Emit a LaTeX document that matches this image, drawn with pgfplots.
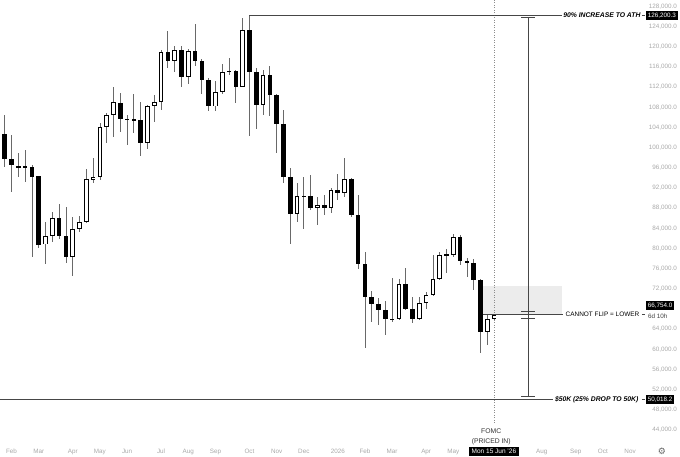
\documentclass[border=0pt]{standalone}
\usepackage{pgfplots}
\pgfplotsset{compat=1.18}
\usepackage{pgfplotstable}
\usepackage{fontspec}
\setmainfont{Liberation Sans}
\newfontfamily\symfont{DejaVu Sans}

\definecolor{axisgray}{RGB}{168,168,168}
\definecolor{wick}{RGB}{105,105,105}
\definecolor{zone}{RGB}{236,236,236}
\definecolor{annot}{RGB}{70,70,70}

% weekly candles, x = days since 1 Jan 2025 (Monday of the week)
\pgfplotstableread{
d   o      h      l      c
19  101300 109100 99500  102600
47  96100  99540  93250  96250
68  80800  85300  76860  82540
75  82540  87300  81340  86100
96  78370  86190  74600  83800
103 83800  86440  83330  85190
110 85190  95770  85100  93720
117 93590  97890  92930  94240
124 94120  104950 93590  104160
131 104160 106820 100870 106480
138 106480 111980 102180 109120
173 100870 108470 99680  108270
180 108270 110450 105150 109120
187 109120 119380 107470 118980
201 117250 120170 115010 119380
215 114080 119520 112630 119240
243 108170 113230 107330 111100
250 111100 116600 110650 115070
257 115070 117730 114420 115300
271 112100 125670 111940 123350
292 108470 115410 106480 114420
327 86840  93050  85310  90350
334 90350  94120  83940  90450
348 88090  90270  84660  88630
362 87970  91940  86980  91600
376 91070  97890  90270  93720
425 65910  74080  65470  65950
432 65950  73880  65810  72890
453 66010  70430  65810  69240
460 69240  71420  67930  70770
467 70770  78710  70570  73880
474 73880  79360  73750  78710
481 78710  79840  75190  78800
488 78800  82870  78250  82340
523 63490  66800  60850  65950
530 65950  67000  65810  66754
}\upcandles

\pgfplotstableread{
d   o      h      l      c
26  102650 106480 96220  97690
33  97690  102510 91260  96500
40  96420  98940  94180  96030
54  96220  96560  78370  94240
61  94320  94380  80030  80690
82  86100  88820  81820  82480
89  82480  88290  77180  78370
145 108920 110790 103170 105630
152 105630 106500 100530 105550
159 105550 110650 102850 105450
166 105450 109120 98350  100870
194 119040 123210 115750 117250
208 119380 120170 112040 114080
222 119240 124440 116200 117290
229 117290 117500 110650 113430
236 113430 113800 107370 108170
264 115300 115500 108800 112100
278 123350 126200 102320 115010
285 115010 115750 103640 108470
299 114420 116300 106380 110450
306 110450 110600 99000  104660
313 104660 107570 93050  94240
320 94240  96030  80850  86840
341 90450  94580  87630  88090
355 88630  90610  86640  87970
369 91600  94780  89620  91070
383 93720  93900  86190  86640
390 86640  90610  75870  76920
397 76920  79360  60190  70430
404 70430  71560  65410  68980
411 68980  70120  64820  67740
418 67740  69580  62830  65910
439 72890  76070  67790  67930
446 67930  70310  65150  66010
495 82340  82670  76720  77520
502 77520  78050  74400  77060
509 77060  77850  71760  73750
516 73750  73900  59320  63490
}\downcandles

\pgfplotsset{
  wicks/.style={draw=none, mark=none, forget plot,
    error bars/.cd, y dir=both, y explicit, error mark=none,
    error bar style={draw=wick, line width=0.8pt}},
  bodies/.style={draw=none, mark=none, forget plot,
    error bars/.cd, y dir=both, y explicit, error mark=none,
    error bar style={draw=black, line width=4.6pt}},
  inner/.style={draw=none, mark=none, forget plot,
    error bars/.cd, y dir=both, y explicit, error mark=none,
    error bar style={draw=white, line width=2.8pt}},
}

\begin{document}
\begin{tikzpicture}
\begin{axis}[
  name=ax, at={(0,0)}, anchor=south west,
  scale only axis, width=645pt, height=440pt,
  xmin=21.1, xmax=685.4, ymin=41996, ymax=129298,
  clip=false,
  axis line style={draw=none},
  major tick length=0pt,
  scaled y ticks=false,
  /pgf/number format/fixed,
  /pgf/number format/fixed zerofill,
  /pgf/number format/precision=1,
  /pgf/number format/1000 sep={,},
  /pgf/number format/assume math mode=true,
  xtick={33,61,96,124,152,187,215,243,278,306,334,369,397,425,460,488,579,614,642,670},
  xticklabels={Feb,Mar,Apr,May,Jun,Jul,Aug,Sep,Oct,Nov,Dec,2026,Feb,Mar,Apr,May,Aug,Sep,Oct,Nov},
  xticklabel style={font=\fontsize{6.3}{7}\selectfont, text=axisgray, anchor=center, yshift=-11.5pt},
  ytick={44000,48000,52000,56000,60000,64000,72000,76000,80000,84000,88000,92000,96000,100000,104000,108000,112000,116000,120000,124000,128000},
  yticklabel pos=right,
  yticklabel style={font=\fontsize{6.3}{7}\selectfont, text=axisgray, anchor=east, xshift=32pt, inner sep=0pt},
]

% shaded zone
\fill[zone] (axis cs:518.5,67000) rectangle (axis cs:599.9,72560);

% current-week marker
\draw[black!45, dotted, line width=0.5pt] (axis cs:530,129298) -- (axis cs:530,45170);

% candles
\addplot[wicks] table[x=d, y expr={(\thisrow{h}+\thisrow{l})/2}, y error expr={(\thisrow{h}-\thisrow{l})/2}] {\upcandles};
\addplot[wicks] table[x=d, y expr={(\thisrow{h}+\thisrow{l})/2}, y error expr={(\thisrow{h}-\thisrow{l})/2}] {\downcandles};
\addplot[bodies] table[x=d, y expr={(\thisrow{o}+\thisrow{c})/2}, y error expr={max(abs(\thisrow{c}-\thisrow{o})/2,100)}] {\upcandles};
\addplot[inner] table[x=d, y expr={(\thisrow{o}+\thisrow{c})/2}, y error expr={max((\thisrow{c}-\thisrow{o})/2-180,0)}] {\upcandles};
\addplot[bodies] table[x=d, y expr={(\thisrow{o}+\thisrow{c})/2}, y error expr={max(abs(\thisrow{c}-\thisrow{o})/2,100)}] {\downcandles};

% ATH annotation
\draw[annot, line width=0.7pt] (axis cs:278,126200.3) -- (axis cs:599.5,126200.3);
\node[anchor=west, inner sep=0pt, font=\fontsize{6.8}{8}\selectfont\bfseries\itshape] at (axis cs:601,126200.3) {90\% INCREASE TO ATH};
\draw[annot, line width=0.7pt] (axis cs:682.3,126200.3) -- (axis cs:685.4,126200.3);
\node[anchor=west, fill=black, text=white, inner xsep=1.8pt, inner ysep=1.6pt, font=\fontsize{6.3}{7}\selectfont] at (axis cs:686.4,126200.3) {126,200.3};

% measuring line
\draw[annot, line width=0.8pt] (axis cs:564.9,125900) -- (axis cs:564.9,50731);
\draw[annot, line width=0.8pt] (axis cs:557.7,125900) -- (axis cs:572.1,125900);
\draw[annot, line width=0.8pt] (axis cs:557.7,50731) -- (axis cs:572.1,50731);
\draw[annot, line width=0.8pt] (axis cs:557.7,67594) -- (axis cs:572.1,67594);
\draw[annot, line width=0.8pt] (axis cs:557.7,66208) -- (axis cs:572.1,66208);

% cannot flip
\draw[annot, line width=0.7pt] (axis cs:518.5,67000) -- (axis cs:600.9,67000);
\node[anchor=west, inner sep=0pt, font=\fontsize{6.45}{8}\selectfont] at (axis cs:603.5,67000) {CANNOT FLIP = LOWER};
\draw[annot, line width=0.7pt] (axis cs:682.3,67000) -- (axis cs:685.4,67000);
\node[anchor=west, fill=black, text=white, inner xsep=1.8pt, inner ysep=1.6pt, font=\fontsize{6.3}{7}\selectfont] at (axis cs:686.4,68686) {66,754.0};
\node[anchor=west, inner sep=0pt, text=black!75, font=\fontsize{6.3}{7}\selectfont] at (axis cs:688.5,66603) {6d 10h};

% 50K
\draw[annot, line width=0.7pt] (axis cs:21.1,50018.2) -- (axis cs:590.6,50018.2);
\node[anchor=west, inner sep=0pt, font=\fontsize{6.8}{8}\selectfont\bfseries\itshape] at (axis cs:592.5,50018.2) {\$50K (25\% DROP TO 50K)};
\draw[annot, line width=0.7pt] (axis cs:682.3,50018.2) -- (axis cs:685.4,50018.2);
\node[anchor=west, fill=black, text=white, inner xsep=1.8pt, inner ysep=1.6pt, font=\fontsize{6.3}{7}\selectfont] at (axis cs:686.4,50018.2) {50,018.2};

% FOMC
\node[align=center, inner sep=0pt, text=black!80, font=\fontsize{6.8}{9.5}\selectfont] at (axis cs:527,42600) {FOMC\\(PRICED IN)};
\node[fill=black, text=white, inner xsep=3pt, inner ysep=2.2pt, font=\fontsize{6.5}{7}\selectfont] at (axis cs:529.8,39721) {Mon 15 Jun '26};

% settings gear
\node[text=black!60, inner sep=0pt, font=\symfont\fontsize{9}{9}\selectfont] at (axis cs:702.9,39721) {⚙};

\end{axis}
\pgfresetboundingbox
\path[use as bounding box] (0pt,-17pt) rectangle (680pt,440pt);
\end{tikzpicture}
\end{document}
